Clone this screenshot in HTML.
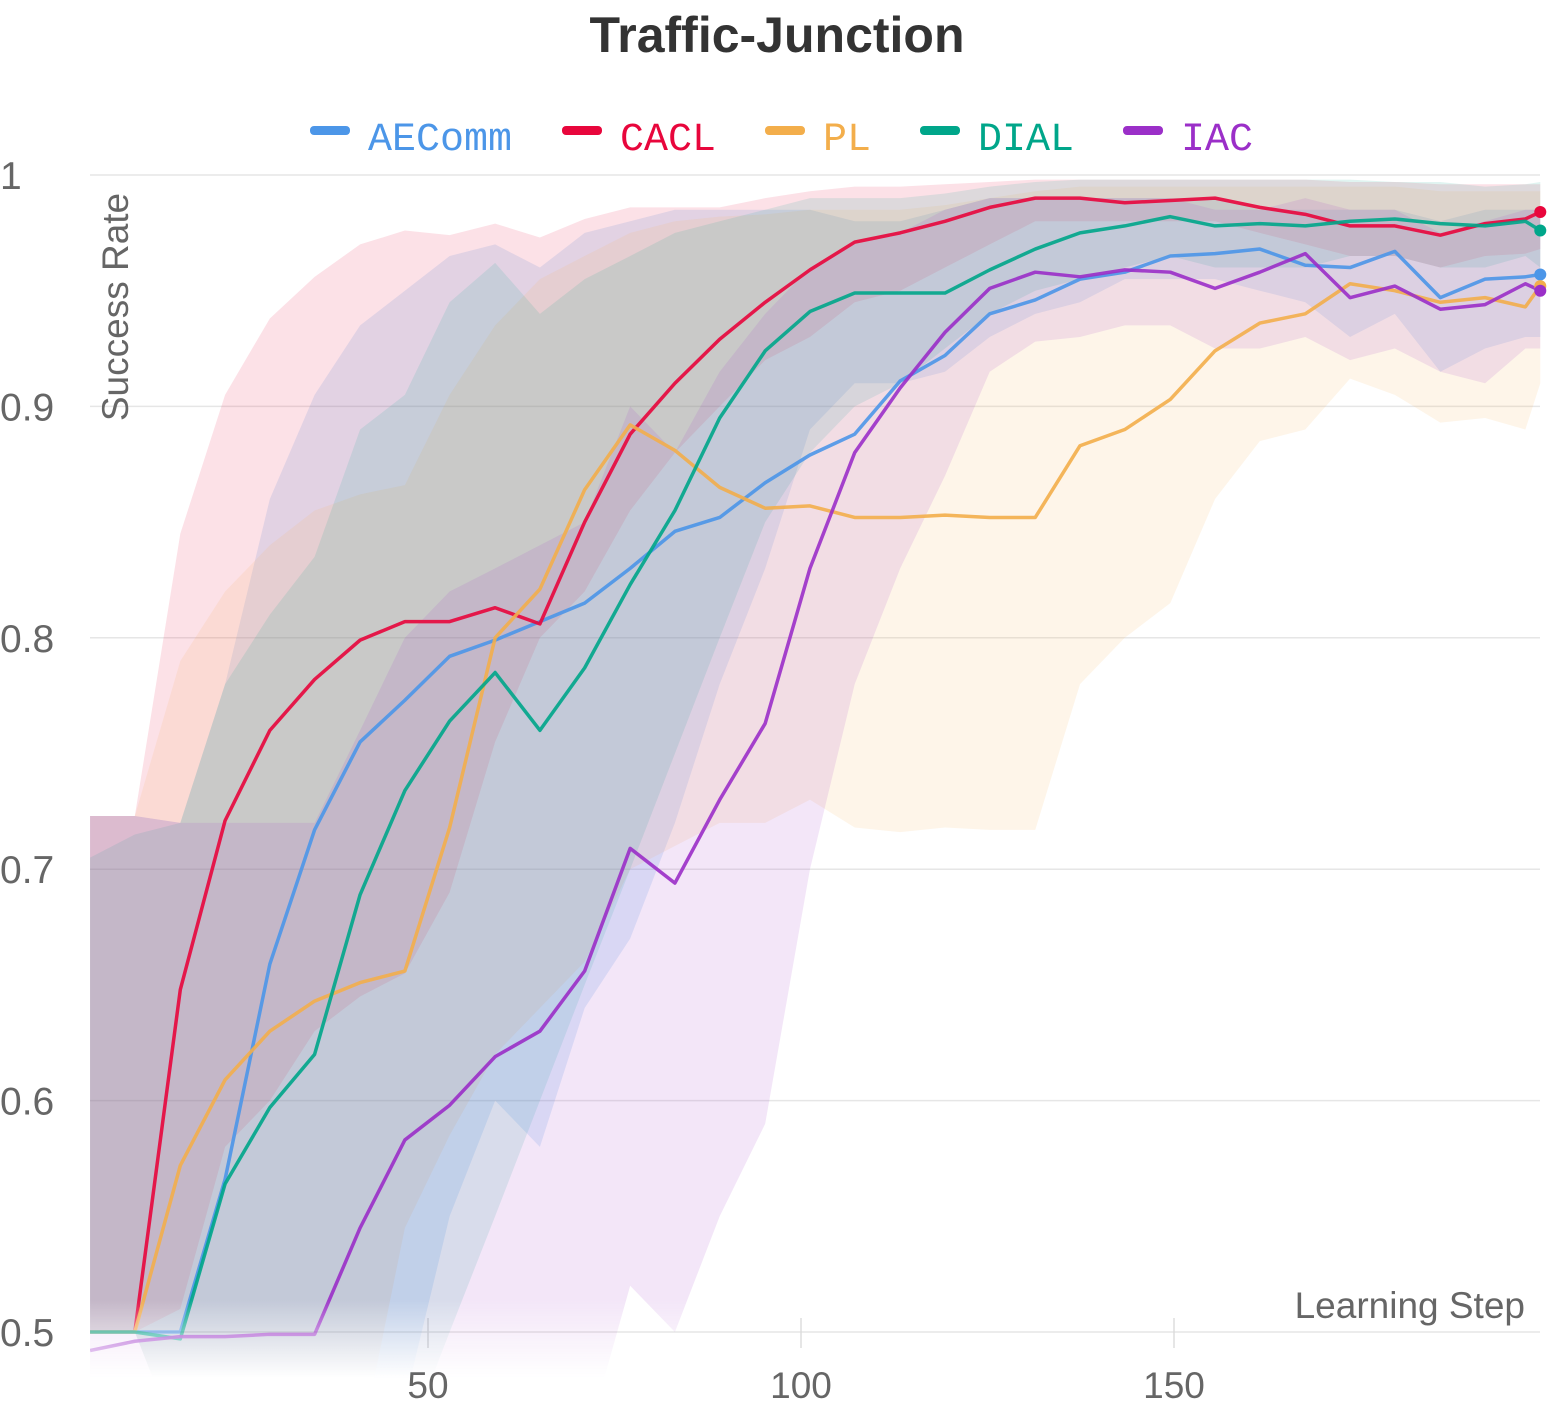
<!DOCTYPE html>
<html><head><meta charset="utf-8"><style>
body{margin:0;background:#fff;}
svg{display:block;font-family:"Liberation Sans",sans-serif;}
</style></head><body>
<svg id="chart" width="1551" height="1404" viewBox="0 0 1551 1404">
<defs>
<clipPath id="plotClip"><rect x="90" y="165" width="1452" height="1215"/></clipPath>
<linearGradient id="fadeGrad" gradientUnits="userSpaceOnUse" x1="0" y1="1300" x2="0" y2="1378">
<stop offset="0" stop-color="#fff"/><stop offset="1" stop-color="#000"/></linearGradient>
<mask id="fadeMask" maskUnits="userSpaceOnUse" x="0" y="0" width="1551" height="1404"><rect x="0" y="0" width="1551" height="1301" fill="#fff"/><rect x="0" y="1300" width="1551" height="80" fill="url(#fadeGrad)"/></mask>
</defs>
<text x="777" y="52" text-anchor="middle" font-size="50" font-weight="bold" fill="#333">Traffic-Junction</text>
<g id="grid"></g>
<g id="legend"></g>
<g id="plot" clip-path="url(#plotClip)" mask="url(#fadeMask)"></g>
<g id="dots"></g>
<text x="0" y="0" transform="translate(128,307) rotate(-90)" text-anchor="middle" font-size="37" fill="#666">Success Rate</text>
<text x="1525" y="1318" text-anchor="end" font-size="37" fill="#666">Learning Step</text>
</svg>
<script>
const steps=[4.7,10.7,16.8,22.8,28.8,34.8,40.9,46.9,52.9,59.0,65.0,71.0,77.1,83.1,89.1,95.2,101.2,107.2,113.3,119.3,125.3,131.4,137.4,143.4,149.5,155.5,161.5,167.6,173.6,179.6,185.7,191.7,197.1,199.1];
const seriesNames=["AEComm","CACL","PL","DIAL","IAC"];
const aecommMean=[.5,.5,.5,.566,.659,.717,.755,.773,.792,.799,.807,.815,.830,.846,.852,.867,.879,.888,.911,.922,.940,.946,.955,.958,.965,.966,.968,.961,.960,.967,.947,.955,.956,.957];
const aecommUpper=[.723,.723,.72,.78,.86,.905,.935,.95,.965,.97,.96,.975,.98,.985,.985,.985,.985,.98,.98,.985,.99,.99,.99,.99,.99,.99,.985,.985,.985,.985,.98,.985,.985,.985];
const aecommLower=[.5,.5,.45,.45,.45,.45,.45,.47,.55,.6,.58,.64,.67,.72,.78,.83,.89,.91,.91,.915,.93,.94,.945,.955,.955,.955,.95,.945,.93,.94,.915,.925,.93,.93];
const caclMean=[.5,.5,.648,.721,.760,.782,.799,.807,.807,.813,.806,.850,.888,.910,.929,.945,.959,.971,.975,.980,.986,.990,.990,.988,.989,.990,.986,.983,.978,.978,.974,.979,.981,.984];
const caclUpper=[.723,.723,.845,.905,.938,.956,.970,.976,.974,.979,.973,.981,.986,.986,.986,.990,.993,.995,.995,.996,.997,.998,.998,.998,.998,.998,.998,.998,.997,.997,.996,.996,.996,.996];
const caclLower=[.5,.5,.51,.58,.60,.63,.645,.655,.69,.755,.80,.82,.855,.88,.90,.92,.93,.945,.95,.96,.97,.98,.98,.98,.98,.98,.975,.97,.965,.965,.96,.965,.966,.968];
const plMean=[.5,.5,.572,.609,.630,.643,.651,.656,.718,.800,.821,.864,.892,.881,.865,.856,.857,.852,.852,.853,.852,.852,.883,.890,.903,.924,.936,.940,.953,.950,.945,.947,.943,.952];
const plUpper=[.723,.723,.79,.82,.84,.855,.862,.866,.905,.935,.955,.965,.975,.98,.982,.983,.985,.985,.985,.987,.99,.993,.995,.995,.995,.995,.995,.995,.995,.995,.993,.993,.993,.993];
const plLower=[.5,.5,.45,.45,.45,.45,.45,.545,.585,.62,.64,.66,.70,.71,.72,.72,.73,.718,.716,.718,.717,.717,.78,.80,.815,.86,.885,.89,.912,.905,.893,.895,.89,.91];
const dialMean=[.5,.5,.497,.564,.597,.620,.689,.734,.764,.785,.760,.787,.823,.855,.895,.924,.941,.949,.949,.949,.959,.968,.975,.978,.982,.978,.979,.978,.980,.981,.979,.978,.980,.976];
const dialUpper=[.705,.715,.72,.78,.81,.835,.89,.905,.945,.962,.94,.955,.965,.975,.98,.985,.99,.99,.99,.992,.995,.997,.998,.998,.998,.998,.998,.998,.998,.997,.997,.995,.996,.997];
const dialLower=[.5,.5,.45,.45,.45,.45,.45,.45,.5,.55,.6,.65,.7,.75,.8,.85,.88,.9,.91,.925,.94,.95,.955,.96,.965,.96,.96,.96,.965,.965,.96,.96,.965,.96];
const iacMean=[.492,.496,.498,.498,.499,.499,.545,.583,.598,.619,.630,.656,.709,.694,.730,.763,.830,.880,.908,.932,.951,.958,.956,.959,.958,.951,.958,.966,.947,.952,.942,.944,.953,.950];
const iacUpper=[.723,.723,.72,.72,.72,.72,.76,.80,.82,.83,.84,.85,.90,.88,.915,.94,.96,.97,.975,.985,.99,.99,.99,.99,.99,.985,.985,.99,.985,.985,.975,.98,.985,.985];
const iacLower=[.45,.45,.45,.45,.45,.45,.45,.45,.45,.45,.45,.45,.52,.50,.55,.59,.70,.78,.83,.87,.915,.928,.93,.935,.935,.925,.925,.93,.92,.925,.915,.91,.925,.925];
const yTicks=[0.5,0.6,0.7,0.8,0.9,1];
const yTickLabels=["0.5","0.6","0.7","0.8","0.9","1"];
const xTicks=[50,100,150];

const NS="http://www.w3.org/2000/svg";
function xs(s){return 55+7.46*s;}
function ys(v){return 175+(1-v)*2314;}
function mk(tag,attrs,parent){const e=document.createElementNS(NS,tag);for(const k in attrs)e.setAttribute(k,attrs[k]);parent.appendChild(e);return e;}
const grid=document.getElementById('grid'),plot=document.getElementById('plot'),dots=document.getElementById('dots'),legend=document.getElementById('legend');
yTicks.forEach((t,i)=>{
  const l=mk('line',{x1:90,x2:1540,y1:ys(t),y2:ys(t),stroke:'#e6e6e6','stroke-width':1.5},grid);
  
  
  const tx=mk('text',{x:0,y:ys(t)+14,'font-size':39,fill:'#666'},grid);
  tx.textContent=yTickLabels[i];
  
  
});
xTicks.forEach(t=>{
  const l=mk('line',{x1:xs(t),x2:xs(t),y1:1318,y2:1348,stroke:'#ddd','stroke-width':1.5},grid);
  
  
  const tx=mk('text',{x:xs(t),y:1398,'font-size':37,fill:'#666','text-anchor':'middle'},grid);
  tx.textContent=String(t);
  
  
});
const series=[
 {name:'AEComm',color:'#4c96e8',mean:aecommMean,up:aecommUpper,lo:aecommLower},
 {name:'CACL',color:'#e8063c',mean:caclMean,up:caclUpper,lo:caclLower},
 {name:'PL',color:'#f3ae4b',mean:plMean,up:plUpper,lo:plLower},
 {name:'DIAL',color:'#00a68a',mean:dialMean,up:dialUpper,lo:dialLower},
 {name:'IAC',color:'#9b2fc8',mean:iacMean,up:iacUpper,lo:iacLower}];
const bandOp=[0.16,0.12,0.12,0.12,0.12];
series.forEach((s,k)=>{
  let d='M'+steps.map((st,i)=>xs(st)+','+ys(s.up[i])).join('L');
  for(let i=steps.length-1;i>=0;i--)d+='L'+xs(steps[i])+','+ys(s.lo[i]);
  const p=mk('path',{d:d+'Z',fill:s.color,'fill-opacity':bandOp[k],stroke:'none'},plot);
  
  
});
series.forEach(s=>{
  const d='M'+steps.map((st,i)=>xs(st)+','+ys(s.mean[i])).join('L');
  const p=mk('path',{d:d,fill:'none',stroke:s.color,'stroke-width':3.5,'stroke-linejoin':'round','stroke-opacity':0.9},plot);
  
  
  const n=steps.length-1;
  const c=mk('circle',{cx:xs(steps[n]),cy:ys(s.mean[n]),r:6,fill:s.color},dots);
  
  
});
const legX=[310,562,765,920,1123];
series.forEach((s,i)=>{
  const g=mk('g',{},legend);
  
  
  mk('rect',{x:legX[i],y:126,width:40,height:9,rx:4,fill:s.color},g);
  const t=mk('text',{x:legX[i]+58,y:150,'font-size':40,fill:s.color,'font-family':'"Liberation Mono",monospace'},g);
  t.textContent=s.name;
});
</script>
</body></html>
